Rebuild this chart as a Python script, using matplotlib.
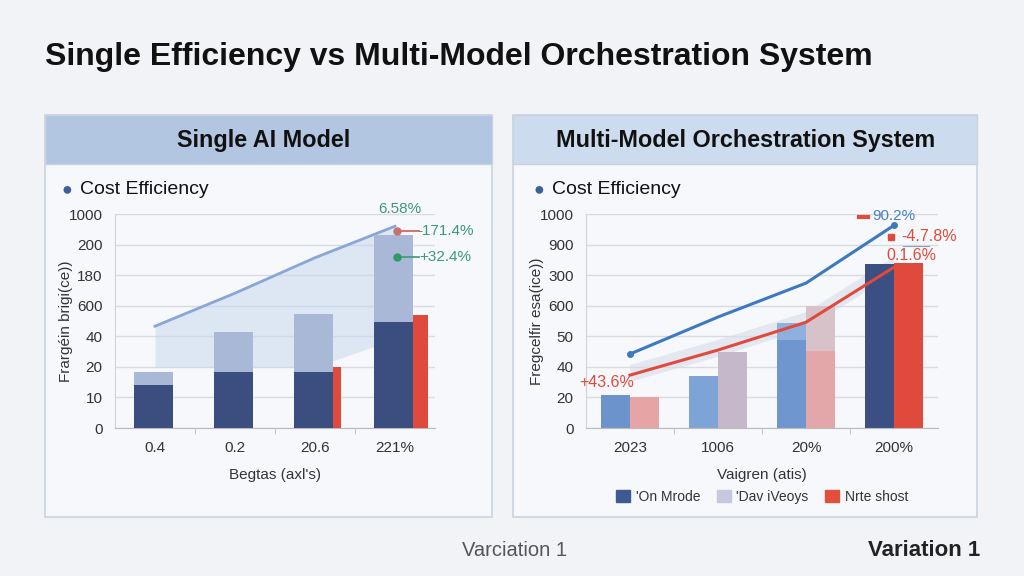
import numpy as np
import matplotlib.pyplot as plt
from matplotlib.patches import Rectangle, Patch

plt.rcParams['font.family'] = ['Liberation Sans', 'DejaVu Sans']

W, H = 1024, 576

# ---- data (y in grid-line units) ----
left_cats = ['0.4', '0.2', '20.6', '221%']
left_yticks = ['0', '10', '20', '40', '600', '180', '200', '1000']
left_dark = [1.4, 1.83, 1.83, 3.46]
left_light = [1.83, 3.14, 3.72, 6.3]
left_red = [0, 0, 2.0, 3.7]
left_line = [3.33, 4.41, 5.57, 6.6]
left_band_low = [2.0, 2.0, 2.0, 2.9]

right_cats = ['2023', '1006', '20%', '200%']
right_yticks = ['0', '20', '40', '50', '600', '300', '900', '1000']
right_a = [1.08, 1.7, 3.43, 5.36]
right_a_low = [0, 0, 2.88, 0]
right_b = [1.0, 2.47, 4.0, 5.4]
right_b_low = [0, 0, 2.53, 0]
right_blue = [2.42, 3.63, 4.74, 6.63]
right_red = [1.73, 2.55, 3.46, 5.26]

legend_labels = ["'On Mrode", "'Dav iVeoys", "Nrte shost"]


def px(x, y):
    return x / W, 1 - y / H


def box(x0, y0, x1, y1):
    return [x0 / W, 1 - y1 / H, (x1 - x0) / W, (y1 - y0) / H]


fig = plt.figure(figsize=(10.24, 5.76), dpi=100)
fig.patch.set_facecolor('#f1f3f7')

# panels
for (x0, x1, head) in [(45, 492, '#b2c6e2'), (513, 977, '#cddbee')]:
    fig.patches.append(Rectangle(px(x0, 517), (x1 - x0) / W, 402 / H,
                                 transform=fig.transFigure, facecolor='#f6f8fb',
                                 edgecolor='#c9d3e0', lw=1.2, zorder=-5))
    fig.patches.append(Rectangle(px(x0, 164), (x1 - x0) / W, 49 / H,
                                 transform=fig.transFigure, facecolor=head,
                                 edgecolor='#c9d3e0', lw=1.0, zorder=-4))

fig.text(*px(45, 57), 'Single Efficiency vs Multi-Model Orchestration System',
         fontsize=23, fontweight='bold', color='#111111', va='center', ha='left')
fig.text(*px(264, 140), 'Single AI Model', fontsize=16.8, fontweight='bold',
         color='#111111', ha='center', va='center')
fig.text(*px(746, 140), 'Multi-Model Orchestration System', fontsize=16.8,
         fontweight='bold', color='#111111', ha='center', va='center')
for xd in (67, 539):
    fig.text(*px(xd, 190), '\u25cf', fontsize=13, color='#3e5f9e', ha='center', va='center')
    fig.text(*px(xd + 13, 189), 'Cost Efficiency', fontsize=14, color='#111111',
             ha='left', va='center')
fig.text(*px(515, 550), 'Varciation 1', fontsize=14.5, color='#555555', ha='center', va='center')
fig.text(*px(924, 550), 'Variation 1', fontsize=16, fontweight='bold', color='#222222',
         ha='center', va='center')


def style_axes(ax, cats, yticks):
    ax.set_facecolor('none')
    ax.set_xlim(-0.5, 3.5)
    ax.set_ylim(0, 7)
    ax.set_yticks(range(8))
    ax.set_yticklabels(yticks)
    ax.set_xticks(range(4))
    ax.set_xticklabels(cats)
    ax.set_xticks([0.5, 1.5, 2.5], minor=True)
    ax.tick_params(axis='both', which='major', length=0, labelsize=11, colors='#333333')
    ax.tick_params(axis='x', which='major', pad=9)
    ax.tick_params(axis='y', pad=9)
    ax.tick_params(axis='x', which='minor', length=4, color='#bbbbbb')
    ax.grid(axis='y', color='#d8dbe0', lw=1)
    ax.set_axisbelow(True)
    for s in ('top', 'right'):
        ax.spines[s].set_visible(False)
    ax.spines['left'].set_color('#d0d3d8')
    ax.spines['bottom'].set_color('#bbbbbb')


# ---- left chart ----
ax1 = fig.add_axes(box(115, 214, 435, 428))
style_axes(ax1, left_cats, left_yticks)
x = np.arange(4)
ax1.fill_between(x, left_band_low, left_line, color='#c9d8ee', alpha=0.55, lw=0, zorder=1)
ax1.plot(x, left_line, color='#88a6d6', lw=2, zorder=1.5)
ax1.bar(x - 0.02, left_light, width=0.48, color='#a8b8d6', zorder=2)
ax1.bar(x - 0.02, left_dark, width=0.48, color='#3a4f80', zorder=3)
ax1.bar(x + 0.22 + np.array([0, 0, 0.05, 0.095]), left_red,
        width=[0.1, 0.1, 0.1, 0.19], color='#e04a3c', zorder=3)
ax1.set_xlabel("Begtas (axl's)", fontsize=11, color='#333333', labelpad=10)
ax1.set_ylabel('Frargéin brigi(ce))', fontsize=11, color='#333333', labelpad=-3)

ax1.text(3.06, 7.15, '6.58%', color='#3c9a78', fontsize=11, ha='center', va='center', clip_on=False)
ax1.plot([3.03, 3.3], [6.45, 6.45], color='#d05a5a', lw=1.2, clip_on=False, zorder=4)
ax1.plot([3.03], [6.45], 'o', color='#c97070', ms=5, clip_on=False, zorder=4)
ax1.text(3.28, 6.45, '-171.4%', color='#3c9a78', fontsize=11, ha='left', va='center', clip_on=False)
ax1.plot([3.03, 3.3], [5.6, 5.6], color='#3c9a78', lw=1.2, clip_on=False, zorder=4)
ax1.plot([3.03], [5.6], 'o', color='#2f9a66', ms=5, clip_on=False, zorder=4)
ax1.text(3.3, 5.6, '+32.4%', color='#3c9a78', fontsize=11, ha='left', va='center', clip_on=False)

# ---- right chart ----
ax2 = fig.add_axes(box(586, 214, 938, 428))
style_axes(ax2, right_cats, right_yticks)
ax2.fill_between(x, np.array(right_red) - 0.2, np.array(right_red) + 0.35,
                 color='#d6ddea', alpha=0.6, lw=0, zorder=1)
a_cols = ['#6d93cd', '#7ea3d6', '#8fb0de', '#3b4f82']
b_cols = ['#e6a4a4', '#c4b8ca', '#d8c2ca', '#e04a3c']
ax2.bar(x - 0.165, right_a, width=0.33, color=a_cols, zorder=2)
ax2.bar(x - 0.165, right_a_low, width=0.33, color='#6f96ce', zorder=2.1)
ax2.bar(x + 0.165, right_b, width=0.33, color=b_cols, zorder=2)
ax2.bar(x + 0.165, right_b_low, width=0.33, color='#e3a6a9', zorder=2.1)
ax2.plot(x, right_blue, color='#3d79c1', lw=2.2, zorder=3)
ax2.plot(x[:1], right_blue[:1], 'o', color='#3d79c1', ms=4, zorder=3)
ax2.plot(x[-1:], right_blue[-1:], 'o', color='#3d79c1', ms=4, zorder=3)
ax2.plot(x, right_red, color='#e04a3c', lw=2.2, zorder=3)
ax2.set_xlabel('Vaigren (atis)', fontsize=11, color='#333333', labelpad=10)
ax2.set_ylabel('Fregcelfir esa(ice))', fontsize=11, color='#333333', labelpad=-3)

ax2.plot([2.6, 2.7], [6.9, 6.9], color='#e04a3c', lw=3, clip_on=False, zorder=4)
ax2.text(3.0, 6.95, '90.2%', color='#4a7fc0', fontsize=11, ha='center', va='center', clip_on=False)
ax2.plot([2.97], [6.25], 's', color='#e04a3c', ms=5, clip_on=False, zorder=4)
ax2.text(3.08, 6.25, '-4.7.8%', color='#e04a3c', fontsize=11.5, ha='left', va='center', clip_on=False)
ax2.plot([3.1, 3.4], [5.95, 5.95], color='#8aa0c0', lw=0.8, clip_on=False, zorder=4)
ax2.text(3.2, 5.65, '0.1.6%', color='#e04a3c', fontsize=11.5, ha='center', va='center', clip_on=False)
ax2.text(-0.27, 1.5, '+43.6%', color='#e04a3c', fontsize=11.5, ha='center', va='center', clip_on=False, zorder=4)

handles = [Patch(color='#3e5a93'), Patch(color='#c5c9dd'), Patch(color='#e0503f')]
fig.legend(handles, legend_labels, loc='center', bbox_to_anchor=px(762, 497), ncol=3,
           frameon=False, fontsize=10, handlelength=1.0, handleheight=1.0,
           handletextpad=0.4, columnspacing=1.2, labelcolor='#333333')

fig.savefig('out.png', dpi=100, facecolor=fig.get_facecolor())
